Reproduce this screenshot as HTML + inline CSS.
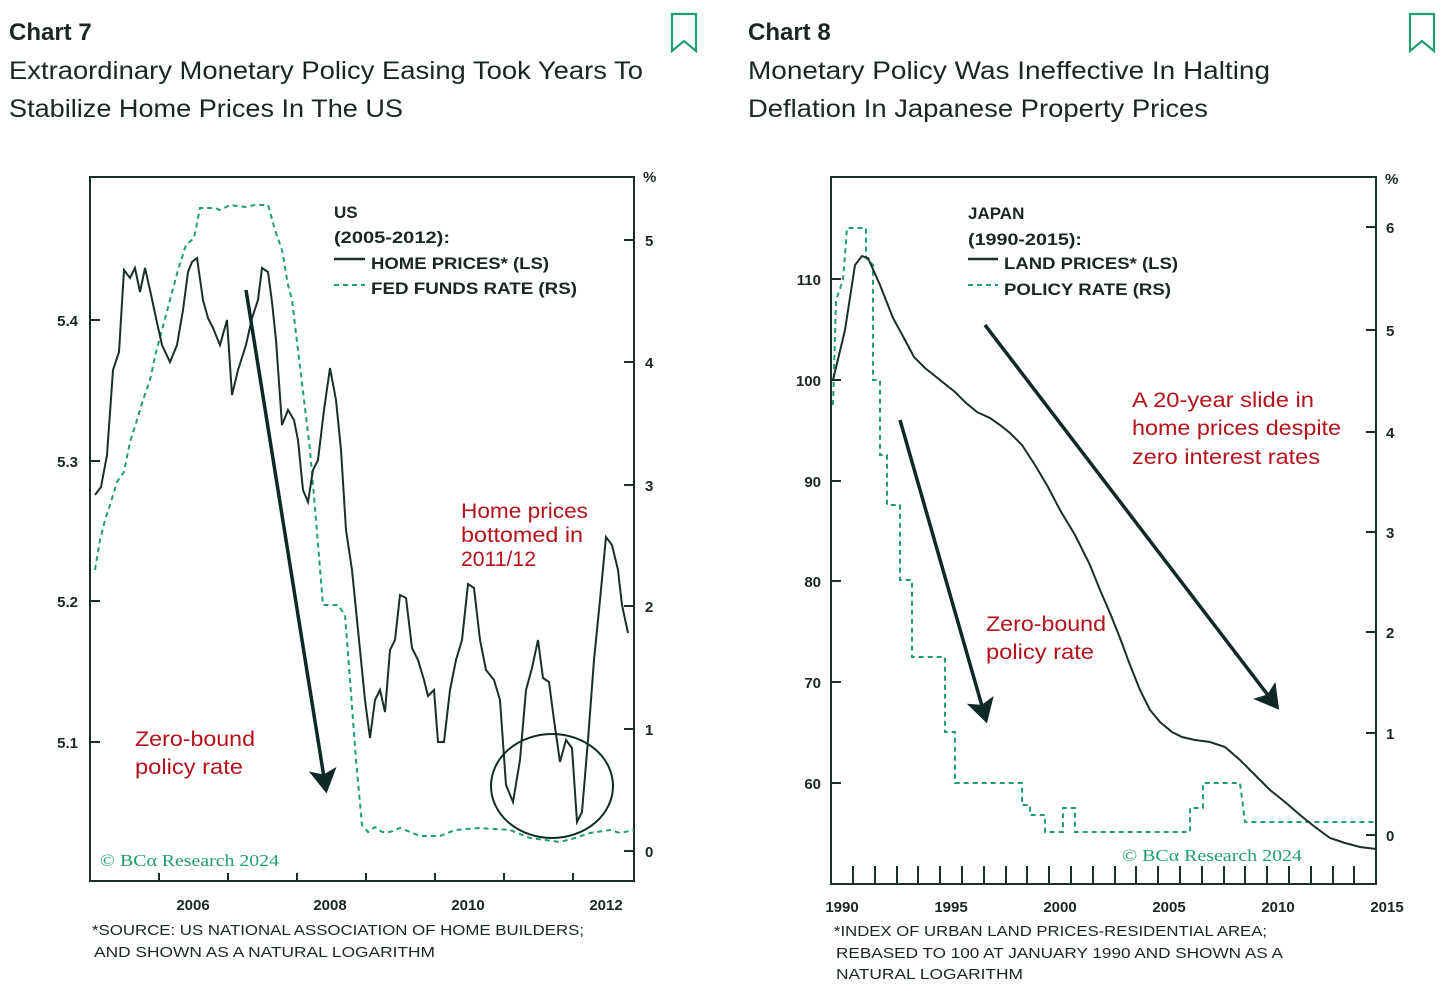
<!DOCTYPE html>
<html><head><meta charset="utf-8"><style>
html,body{margin:0;padding:0;background:#fff;}
svg{display:block;}
</style></head><body>
<svg width="1456" height="991" viewBox="0 0 1456 991" xmlns="http://www.w3.org/2000/svg" font-family="Liberation Sans, sans-serif">
<defs>
<marker id="ah" markerWidth="8" markerHeight="8" refX="6" refY="4" orient="auto" markerUnits="strokeWidth">
<path d="M0,0 L7,4 L0,8 L1.5,4 Z" fill="#0f2a26"/></marker>
</defs>
<!-- headers -->
<text x="9" y="40" font-size="24" font-weight="bold" fill="#1a2624">Chart 7</text>
<text x="9" y="79" font-size="25" fill="#1a2624" textLength="634" lengthAdjust="spacingAndGlyphs">Extraordinary Monetary Policy Easing Took Years To</text>
<text x="9" y="117" font-size="25" fill="#1a2624" textLength="394" lengthAdjust="spacingAndGlyphs">Stabilize Home Prices In The US</text>
<path d="M672,14 H696 V51 L684,41 L672,51 Z" fill="none" stroke="#1f9e6e" stroke-width="2.2"/>
<text x="748" y="40" font-size="24" font-weight="bold" fill="#1a2624">Chart 8</text>
<text x="748" y="79" font-size="25" fill="#1a2624" textLength="522" lengthAdjust="spacingAndGlyphs">Monetary Policy Was Ineffective In Halting</text>
<text x="748" y="117" font-size="25" fill="#1a2624" textLength="460" lengthAdjust="spacingAndGlyphs">Deflation In Japanese Property Prices</text>
<path d="M1410,14 H1434 V51 L1422,41 L1410,51 Z" fill="none" stroke="#1f9e6e" stroke-width="2.2"/>

<!-- CHART 7 -->
<g stroke="#1a2e2a" fill="none" stroke-width="2">
<rect x="90" y="177" width="544" height="704"/>
<path d="M90,320h10M90,461h10M90,601h10M90,742h10"/>
<path d="M624,240h10M624,362h10M624,485h10M624,606h10M624,729h10M624,851h10"/>
<path d="M159,873v8M228,873v8M297,873v8M366,873v8M435,873v8M504,873v8M573,873v8"/>
</g>
<g font-size="15" fill="#1a2624" font-weight="bold">
<text x="78" y="326" text-anchor="end">5.4</text>
<text x="78" y="467" text-anchor="end">5.3</text>
<text x="78" y="607" text-anchor="end">5.2</text>
<text x="78" y="748" text-anchor="end">5.1</text>
<text x="645" y="246">5</text><text x="645" y="368">4</text><text x="645" y="491">3</text>
<text x="645" y="612">2</text><text x="645" y="735">1</text><text x="645" y="857">0</text>
<text x="643" y="182">%</text>
<text x="193" y="910" text-anchor="middle">2006</text>
<text x="330" y="910" text-anchor="middle">2008</text>
<text x="468" y="910" text-anchor="middle">2010</text>
<text x="606" y="910" text-anchor="middle">2012</text>
</g>
<polyline fill="none" stroke="#1f9e6e" stroke-width="2" stroke-dasharray="5,4" points="95,570 100,540 105,520 110,505 117,482 124,472 130,442 137,420 143,400 150,380 156,352 162,330 170,300 178,270 186,245 194,238 200,208 215,208 220,210 230,205 245,207 255,205 268,205 275,230 282,250 288,285 292,300 298,350 304,400 310,450 316,520 323,605 338,605 345,615 350,680 356,760 362,825 368,832 375,827 382,832 390,832 400,828 410,832 420,836 440,836 455,830 480,828 510,830 530,838 560,842 575,838 590,833 610,830 620,833 634,830"/>
<polyline fill="none" stroke="#1a2e2a" stroke-width="2" points="95,495 101,487 107,455 113,370 119,352 124,270 130,278 135,268 140,292 145,268 150,290 156,318 162,345 170,362 177,345 183,310 188,272 192,262 197,258 203,300 208,318 213,328 220,345 227,320 232,395 238,370 246,345 252,318 258,300 262,268 268,272 272,302 276,340 282,425 288,410 294,420 298,440 303,490 308,502 313,470 318,460 324,410 330,368 336,400 341,450 346,530 352,570 358,630 365,700 370,738 375,700 380,690 385,712 390,650 395,640 400,595 406,598 412,648 418,660 424,680 428,696 434,690 438,742 444,742 450,690 456,660 462,640 468,584 474,588 480,640 486,670 494,680 500,700 506,785 513,802 520,760 526,690 532,668 538,640 543,678 549,682 554,720 560,762 566,740 572,748 577,822 582,812 588,740 594,660 600,600 606,537 612,545 618,570 622,605 628,633"/>
<line x1="246" y1="290" x2="326" y2="790" stroke="#0f2a26" stroke-width="3.5" marker-end="url(#ah)"/>
<ellipse cx="552" cy="786" rx="61" ry="52" fill="none" stroke="#0f2a26" stroke-width="2"/>
<g font-size="17" fill="#1a2624" font-weight="bold">
<text x="334" y="218">US</text>
<text x="334" y="243" textLength="116" lengthAdjust="spacingAndGlyphs">(2005-2012):</text>
<text x="371" y="269" textLength="178" lengthAdjust="spacingAndGlyphs">HOME PRICES* (LS)</text>
<text x="371" y="294" textLength="206" lengthAdjust="spacingAndGlyphs">FED FUNDS RATE (RS)</text>
</g>
<line x1="334" y1="259" x2="365" y2="259" stroke="#1a2e2a" stroke-width="2.5"/>
<line x1="334" y1="285" x2="365" y2="285" stroke="#1f9e6e" stroke-width="2" stroke-dasharray="5,4"/>
<g font-size="21" fill="#b5121b">
<text x="461" y="518" textLength="127" lengthAdjust="spacingAndGlyphs">Home prices</text>
<text x="461" y="542" textLength="122" lengthAdjust="spacingAndGlyphs">bottomed in</text>
<text x="461" y="566" textLength="75" lengthAdjust="spacingAndGlyphs">2011/12</text>
<text x="135" y="746" textLength="120" lengthAdjust="spacingAndGlyphs">Zero-bound</text>
<text x="135" y="774" textLength="108" lengthAdjust="spacingAndGlyphs">policy rate</text>
</g>
<text x="100" y="866" font-size="17" fill="#1f9e6e" font-family="Liberation Serif, serif" textLength="179" lengthAdjust="spacingAndGlyphs">© BCα Research 2024</text>
<g font-size="15" fill="#1a2624">
<text x="92" y="935" textLength="492" lengthAdjust="spacingAndGlyphs">*SOURCE: US NATIONAL ASSOCIATION OF HOME BUILDERS;</text>
<text x="94" y="957" textLength="341" lengthAdjust="spacingAndGlyphs">AND SHOWN AS A NATURAL LOGARITHM</text>
</g>

<!-- CHART 8 -->
<g stroke="#1a2e2a" fill="none" stroke-width="2">
<rect x="831" y="177" width="545" height="707"/>
<path d="M831,279h10M831,380h10M831,481h10M831,581h10M831,682h10M831,783h10"/>
<path d="M1366,227h10M1366,330h10M1366,432h10M1366,532h10M1366,632h10M1366,733h10M1366,835h10"/>
<path d="M853,866v18M875,866v18M897,866v18M918,866v18M940,866v18M962,866v18M984,866v18M1006,866v18M1027,866v18M1049,866v18M1071,866v18M1093,866v18M1115,866v18M1136,866v18M1158,866v18M1180,866v18M1202,866v18M1224,866v18M1245,866v18M1267,866v18M1289,866v18M1311,866v18M1333,866v18M1354,866v18"/>
</g>
<g font-size="15" fill="#1a2624" font-weight="bold">
<text x="821" y="285" text-anchor="end">110</text>
<text x="821" y="386" text-anchor="end">100</text>
<text x="821" y="487" text-anchor="end">90</text>
<text x="821" y="587" text-anchor="end">80</text>
<text x="821" y="688" text-anchor="end">70</text>
<text x="821" y="789" text-anchor="end">60</text>
<text x="1386" y="233">6</text><text x="1386" y="336">5</text><text x="1386" y="438">4</text>
<text x="1386" y="538">3</text><text x="1386" y="638">2</text><text x="1386" y="739">1</text><text x="1386" y="841">0</text>
<text x="1385" y="184">%</text>
<text x="842" y="912" text-anchor="middle">1990</text>
<text x="951" y="912" text-anchor="middle">1995</text>
<text x="1060" y="912" text-anchor="middle">2000</text>
<text x="1169" y="912" text-anchor="middle">2005</text>
<text x="1278" y="912" text-anchor="middle">2010</text>
<text x="1387" y="912" text-anchor="middle">2015</text>
</g>
<polyline fill="none" stroke="#1f9e6e" stroke-width="2" stroke-dasharray="5,4" points="833,405 836,300 843,280 847,228 866,228 866,258 873,265 873,380 880,380 880,455 887,455 887,505 900,505 900,580 912,580 912,657 945,657 945,732 955,732 955,783 1022,783 1022,805 1030,805 1030,815 1045,815 1045,832 1063,832 1063,808 1075,808 1075,832 1190,832 1190,808 1203,808 1203,783 1240,783 1245,822 1376,822"/>
<polyline fill="none" stroke="#1a2e2a" stroke-width="2" points="833,380 845,330 855,265 862,256 868,258 880,285 893,318 905,340 914,357 925,368 940,380 955,392 965,402 977,412 990,418 1000,425 1010,433 1022,445 1035,465 1048,487 1060,510 1075,535 1090,565 1100,590 1110,613 1120,638 1130,665 1140,690 1150,710 1160,722 1172,732 1182,737 1195,740 1210,742 1225,747 1240,760 1255,775 1270,790 1285,802 1300,815 1315,827 1330,838 1345,843 1360,847 1376,849"/>
<line x1="900" y1="420" x2="986" y2="720" stroke="#0f2a26" stroke-width="3.5" marker-end="url(#ah)"/>
<line x1="985" y1="325" x2="1277" y2="707" stroke="#0f2a26" stroke-width="3.5" marker-end="url(#ah)"/>
<g font-size="17" fill="#1a2624" font-weight="bold">
<text x="968" y="219">JAPAN</text>
<text x="968" y="245" textLength="114" lengthAdjust="spacingAndGlyphs">(1990-2015):</text>
<text x="1004" y="269" textLength="174" lengthAdjust="spacingAndGlyphs">LAND PRICES* (LS)</text>
<text x="1004" y="295" textLength="167" lengthAdjust="spacingAndGlyphs">POLICY RATE (RS)</text>
</g>
<line x1="968" y1="259" x2="998" y2="259" stroke="#1a2e2a" stroke-width="2.5"/>
<line x1="968" y1="285" x2="998" y2="285" stroke="#1f9e6e" stroke-width="2" stroke-dasharray="5,4"/>
<g font-size="21" fill="#b5121b">
<text x="1132" y="407" textLength="182" lengthAdjust="spacingAndGlyphs">A 20-year slide in</text>
<text x="1132" y="435" textLength="209" lengthAdjust="spacingAndGlyphs">home prices despite</text>
<text x="1132" y="464" textLength="188" lengthAdjust="spacingAndGlyphs">zero interest rates</text>
<text x="986" y="631" textLength="120" lengthAdjust="spacingAndGlyphs">Zero-bound</text>
<text x="986" y="659" textLength="108" lengthAdjust="spacingAndGlyphs">policy rate</text>
</g>
<text x="1122" y="861" font-size="17" fill="#1f9e6e" font-family="Liberation Serif, serif" textLength="180" lengthAdjust="spacingAndGlyphs">© BCα Research 2024</text>
<g font-size="15" fill="#1a2624">
<text x="834" y="936" textLength="433" lengthAdjust="spacingAndGlyphs">*INDEX OF URBAN LAND PRICES-RESIDENTIAL AREA;</text>
<text x="836" y="958" textLength="447" lengthAdjust="spacingAndGlyphs">REBASED TO 100 AT JANUARY 1990 AND SHOWN AS A</text>
<text x="836" y="979" textLength="187" lengthAdjust="spacingAndGlyphs">NATURAL LOGARITHM</text>
</g>
</svg>
</body></html>
